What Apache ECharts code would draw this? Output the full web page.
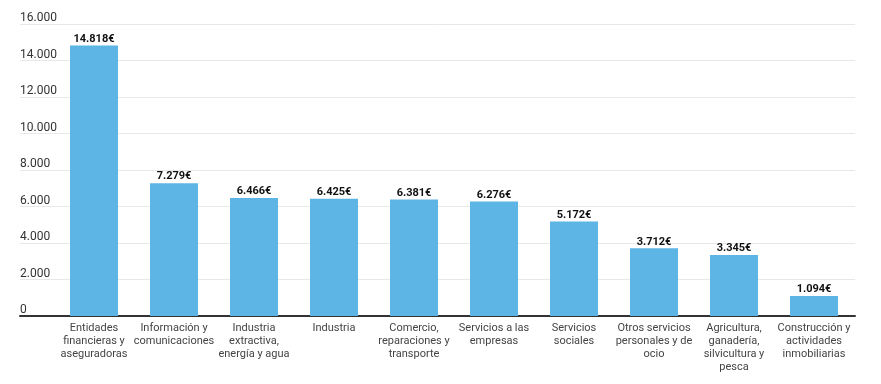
<!DOCTYPE html>
<html>
<head>
<meta charset="utf-8">
<script src="https://cdn.jsdelivr.net/npm/echarts@6/dist/echarts.min.js"></script>
<style>html,body{margin:0;padding:0;background:#fff;}#c{width:881px;height:384px;}</style>
</head>
<body>
<div id="c"></div>
<script>
const categories = [
  "Entidades\nfinancieras y\naseguradoras",
  "Información y\ncomunicaciones",
  "Industria\nextractiva,\nenergía y agua",
  "Industria",
  "Comercio,\nreparaciones y\ntransporte",
  "Servicios a las\nempresas",
  "Servicios\nsociales",
  "Otros servicios\npersonales y de\nocio",
  "Agricultura,\nganadería,\nsilvicultura y\npesca",
  "Construcción y\nactividades\ninmobiliarias"
];
const values = [14818, 7279, 6466, 6425, 6381, 6276, 5172, 3712, 3345, 1094];
const yMin = 0, yMax = 16000, yStep = 2000;

function fmt(n) { return String(n).replace(/\B(?=(\d{3})+(?!\d))/g, '.'); }

const chart = echarts.init(document.getElementById('c'), null, {renderer: 'canvas'});
const TOP = 24, BOTTOM = 68;
chart.setOption({
  animation: false,
  backgroundColor: '#fff',
  textStyle: {fontFamily: 'Roboto'},
  grid: [
    {left: 20, right: 26, top: TOP, bottom: BOTTOM},
    {left: 54, right: 27, top: TOP, bottom: BOTTOM}
  ],
  xAxis: [
    {gridIndex: 0, type: 'value', min: 0, max: 1, show: true,
     axisLine: {show: true, onZero: false, lineStyle: {color: '#333', width: 2}},
     axisTick: {show: false}, axisLabel: {show: false}, splitLine: {show: false}},
    {gridIndex: 1, type: 'category', data: categories,
     axisLine: {show: false}, axisTick: {show: false},
     axisLabel: {interval: 0, color: '#444', fontSize: 11, lineHeight: 13, margin: 6, align: 'center', fontFamily: 'Roboto'}}
  ],
  yAxis: [
    {gridIndex: 0, type: 'value', min: yMin, max: yMax, interval: yStep,
     axisLine: {show: false}, axisTick: {show: false},
     axisLabel: {inside: true, align: 'left', verticalAlign: 'bottom', margin: 0, padding: [0, 0, 0, 0],
                 color: '#333', fontSize: 12, fontFamily: 'Roboto', formatter: v => fmt(v)},
     splitLine: {show: true, lineStyle: {color: '#e8e8e8', width: 1}}},
    {gridIndex: 1, type: 'value', min: yMin, max: yMax, interval: yStep, show: false}
  ],
  series: [{
    type: 'bar', xAxisIndex: 1, yAxisIndex: 1,
    data: values, barWidth: 48,
    itemStyle: {color: '#5db5e6'},
    label: {show: true, position: 'top', distance: 1, color: '#111', fontWeight: 'bold', fontSize: 11,
            fontFamily: 'Roboto', formatter: p => fmt(p.value) + '€'}
  }]
});
</script>
</body>
</html>
